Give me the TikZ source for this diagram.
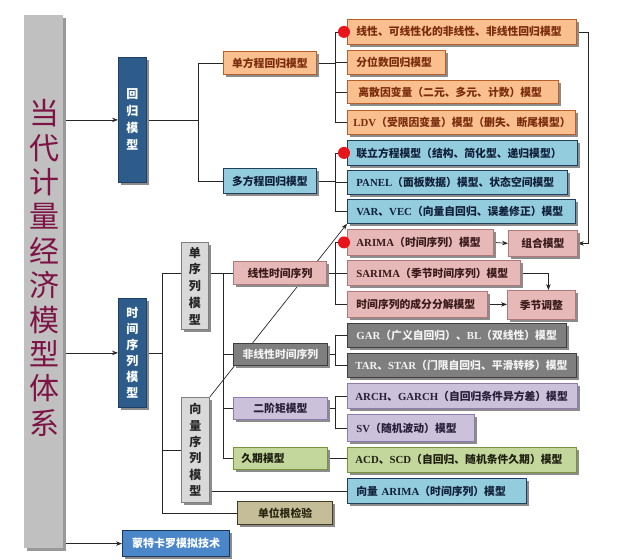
\documentclass[tikz,border=0pt]{standalone}
\usepackage{fontspec}
\setmainfont{Noto Sans CJK SC}
\newfontfamily\latf{Liberation Serif}
\usetikzlibrary{shadows,arrows.meta}
\pgfdeclarelayer{bg}
\pgfsetlayers{bg,main}
\newcommand\La[1]{{\latf\bfseries #1}}
\definecolor{orF}{HTML}{F9BF8F}\definecolor{orD}{HTML}{B8602A}\definecolor{orT}{HTML}{7B2C0C}
\definecolor{cyF}{HTML}{93CDDD}\definecolor{cyD}{HTML}{1F3F5F}\definecolor{cyT}{HTML}{10203A}
\definecolor{pkF}{HTML}{E6B9B8}\definecolor{pkD}{HTML}{B07878}\definecolor{pkT}{HTML}{3A1A1A}
\definecolor{gyF}{HTML}{7F7F7F}\definecolor{gyD}{HTML}{3F3F3F}\definecolor{gyT}{HTML}{F2F2F2}
\definecolor{lvF}{HTML}{CCC1DA}\definecolor{lvD}{HTML}{8E7CB0}\definecolor{lvT}{HTML}{2A1F3A}
\definecolor{grF}{HTML}{C3D69B}\definecolor{grD}{HTML}{77933C}\definecolor{grT}{HTML}{202010}
\definecolor{tnF}{HTML}{C4BD97}\definecolor{tnD}{HTML}{3F3A20}\definecolor{tnT}{HTML}{2A2510}
\definecolor{nvF}{HTML}{2E5C8A}\definecolor{nvD}{HTML}{1F3F66}
\definecolor{mcF}{HTML}{4A86C8}\definecolor{mcD}{HTML}{17375E}
\definecolor{lgF}{HTML}{D9D9D9}\definecolor{lgD}{HTML}{7F7F7F}
\definecolor{barC}{HTML}{C0C0C0}\definecolor{maroon}{HTML}{7D1445}
\definecolor{dotred}{HTML}{E8141C}
\begin{document}
\begin{tikzpicture}[x=1pt,y=-1pt,
  bx/.style={draw, line width=0.8pt, anchor=north west, inner sep=0pt,
    font=\fontsize{10.8}{12}\selectfont\bfseries,
    drop shadow={shadow xshift=2.5pt,shadow yshift=-2.5pt,fill=black!45,opacity=1}},
  lb/.style={bx, align=left, inner xsep=9pt},
  cb/.style={bx, align=center},
  vt/.style={bx, align=center, font=\fontsize{12}{17}\selectfont\bfseries},
  orng/.style={fill=orF, draw=orD, text=orT},
  cyan/.style={fill=cyF, draw=cyD, text=cyT},
  pink/.style={fill=pkF, draw=pkD, text=pkT},
  dgry/.style={fill=gyF, draw=gyD, text=gyT},
  lav/.style={fill=lvF, draw=lvD, text=lvT},
  grn/.style={fill=grF, draw=grD, text=grT},
  tan/.style={fill=tnF, draw=tnD, text=tnT},
  navy/.style={fill=nvF, draw=nvD, text=white},
  lgry/.style={fill=lgF, draw=lgD, text=black!85},
  ln/.style={line width=0.7pt, draw=black!85},
  arr/.style={ln, -{Stealth[length=6pt,width=4.5pt]}},
  dot/.style={circle, fill=dotred, inner sep=0pt, minimum size=12pt}]
\useasboundingbox (0,0) rectangle (620,559);

% main bar
\node[anchor=north west, fill=barC, minimum width=39pt, minimum height=533pt, inner sep=0pt,
  drop shadow={shadow xshift=3pt,shadow yshift=-3pt,fill=black!40,opacity=1}] (bar) at (24,15) {};
\node[font=\fontsize{30}{34.4}\selectfont, text=maroon, align=center] (title) at (44,268)
  {当\\代\\计\\量\\经\\济\\模\\型\\体\\系};

% level 1
\node[vt, navy, minimum width=28pt, minimum height=125pt] (hg) at (118,57) {回\\归\\模\\型};
\node[vt, navy, minimum width=28pt, minimum height=109pt, font=\fontsize{12}{16}\selectfont\bfseries] (ts) at (118,298) {时\\间\\序\\列\\模\\型};
\node[cb, fill=mcF, draw=mcD, text=white, line width=1.2pt, minimum width=107pt, minimum height=26pt, font=\fontsize{11}{13}\selectfont\bfseries] (mc) at (122,530) {蒙特卡罗模拟技术};

% regression
\node[cb, orng, minimum width=93pt, minimum height=23pt] (dfc) at (223,51) {单方程回归模型};
\node[cb, cyan, minimum width=93pt, minimum height=25pt] (mfc) at (223,168) {多方程回归模型};

\node[lb, orng, text width=211pt, minimum height=25pt] (o1) at (347,19) {\mbox{线性、可线性化的非线性、非线性回归模型}};
\node[lb, orng, text width=80pt, minimum height=24pt] (o2) at (347,50) {\mbox{分位数回归模型}};
\node[lb, orng, minimum height=23pt, inner xsep=11pt, text width=189pt] (o3) at (347,80) {\mbox{离散因变量（二元、多元、计数）模型}};
\node[lb, orng, text width=216pt, minimum height=24pt, inner xsep=6pt] (o4) at (347,110) {\mbox{\La{LDV}（受限因变量）模型（删失、断尾模型）}};
\node[lb, cyan, text width=212pt, minimum height=25pt] (c1) at (347,140) {\mbox{联立方程模型（结构、简化型、递归模型）}};
\node[lb, cyan, text width=202pt, minimum height=24pt] (c2) at (347,170) {\mbox{\La{PANEL}（面板数据）模型、状态空间模型}};
\node[lb, cyan, text width=210pt, minimum height=24pt] (c3) at (347,199) {\mbox{\La{VAR}、\La{VEC}（向量自回归、误差修正）模型}};

% time series level 2
\node[vt, lgry, minimum width=27pt, minimum height=87pt, font=\fontsize{12}{16.75}\selectfont\bfseries] (dxl) at (181,242) {单\\序\\列\\模\\型};
\node[vt, lgry, minimum width=28pt, minimum height=105pt, font=\fontsize{12}{16.4}\selectfont\bfseries] (xl) at (181,397) {向\\量\\序\\列\\模\\型};

\node[cb, pink, minimum width=93pt, minimum height=23pt] (lin) at (233,261) {线性时间序列};
\node[cb, dgry, minimum width=94pt, minimum height=22pt] (nlin) at (233,343) {非线性时间序列};
\node[cb, lav, minimum width=94pt, minimum height=22pt] (ejj) at (233,397) {二阶矩模型};
\node[lb, grn, text width=78pt, minimum height=22pt, inner xsep=8pt] (jq) at (233,447) {\mbox{久期模型}};
\node[cb, tan, line width=1.2pt, minimum width=95pt, minimum height=23pt] (dwg) at (237,501) {单位根检验};

% time series leaves
\node[lb, pink, text width=128pt, minimum height=26pt] (p1) at (347,229) {\mbox{\La{ARIMA}（时间序列）模型}};
\node[cb, pink, minimum width=69pt, minimum height=26pt] (zh) at (508,230) {组合模型};
\node[lb, pink, text width=155pt, minimum height=25pt] (p2) at (347,260) {\mbox{\La{SARIMA}（季节时间序列）模型}};
\node[lb, pink, text width=122pt, minimum height=26pt] (p3) at (347,291) {\mbox{时间序列的成分分解模型}};
\node[cb, pink, minimum width=68pt, minimum height=29pt] (jj) at (507,290) {季节调整};
\node[lb, dgry, text width=201pt, minimum height=24pt] (g1) at (347,323) {\mbox{\La{GAR}（广义自回归）、\La{BL}（双线性）模型}};
\node[lb, dgry, text width=213pt, minimum height=24pt, inner xsep=8pt] (g2) at (347,353) {\mbox{\La{TAR}、\La{STAR}（门限自回归、平滑转移）模型}};
\node[lb, lav, text width=214pt, minimum height=25pt, inner xsep=8pt] (v1) at (347,383) {\mbox{\La{ARCH}、\La{GARCH}（自回归条件异方差）模型}};
\node[lb, lav, text width=109pt, minimum height=27pt] (v2) at (347,414) {\mbox{\La{SV}（随机波动）模型}};
\node[lb, grn, text width=213pt, minimum height=25pt, inner xsep=8pt] (gr1) at (347,447) {\mbox{\La{ACD}、\La{SCD}（自回归、随机条件久期）模型}};
\node[lb, cyan, text width=161pt, minimum height=25pt] (bv) at (347,478) {\mbox{向量 \La{ARIMA}（时间序列）模型}};

% red dots
\node[dot] (d1) at ([xshift=-3pt]o1.west) {};
\node[dot] (d2) at ([xshift=-3pt]c1.west) {};
\node[dot] (d3) at ([xshift=-3pt]p1.west) {};

% bus coordinates
\coordinate (busA) at (198,0);
\coordinate (busB) at (335,0);
\coordinate (busT) at (162,0);
\coordinate (busU) at (223,0);
\coordinate (busR) at (588,0);

\begin{pgfonlayer}{bg}
\draw[arr] (bar.east |- hg.west) -- (hg.west);
\draw[arr] (bar.east |- ts.west) -- (ts.west);
\draw[arr] (bar.east |- mc.west) -- (mc.west);
% regression tree
\draw[ln] (hg.east) -- (busA |- hg.east);
\draw[ln] (dfc.west) -| (busA |- mfc.west) -- (mfc.west);
\draw[ln] (dfc.east) -- (busB |- dfc.east);
\draw[ln] (o1.west) -| (busB |- o4.west) -- (o4.west);
\draw[ln] (busB |- o2.west) -- (o2.west);
\draw[ln] (busB |- o3.west) -- (o3.west);
\draw[ln] (mfc.east) -- (busB |- mfc.east);
\draw[ln] (c1.west) -| (busB |- c3.west) -- (c3.west);
\draw[ln] (busB |- c2.west) -- (c2.west);
\draw[arr] (o1.east) -- (busR |- o1.east) |- (zh.east);
% time series tree
\draw[ln] (ts.east) -- (busT |- ts.east);
\draw[ln] (busT |- lin.west) -- (busT |- dwg.west);
\draw[ln] (busT |- lin.west) -- (lin.west);
\draw[ln] (busT |- xl.west) -- (xl.west);
\draw[ln] (busT |- dwg.west) -- (dwg.west);
\draw[ln] (busU |- lin.west) -- (busU |- jq.west);
\draw[ln] (busU |- nlin.west) -- (nlin.west);
\draw[ln] (busU |- ejj.west) -- (ejj.west);
\draw[ln] (busU |- jq.west) -- (jq.west);
\draw[ln] (lin.east) -- (busB |- lin.east);
\draw[ln] (p1.west) -| (busB |- p3.west) -- (p3.west);
\draw[ln] (busB |- p2.west) -- (p2.west);
\draw[arr] (p1.east) -- (zh.west);
\draw[arr] (p2.east) -| ([xshift=7pt]jj.north);
\draw[arr] (p3.east) -- (jj.west |- p3.east);
\draw[ln] (nlin.east) -- (busB |- nlin.east);
\draw[ln] (g1.west) -| (busB |- g2.west) -- (g2.west);
\draw[ln] (ejj.east) -- (busB |- ejj.east);
\draw[ln] (v1.west) -| (busB |- v2.west) -- (v2.west);
\draw[ln] (jq.east) -- (gr1.west |- jq.east);
\draw[ln] (xl.east |- bv.west) -- (bv.west);
\draw[arr] (xl.north east) -- (c3.south west);
\end{pgfonlayer}
\end{tikzpicture}
\end{document}
